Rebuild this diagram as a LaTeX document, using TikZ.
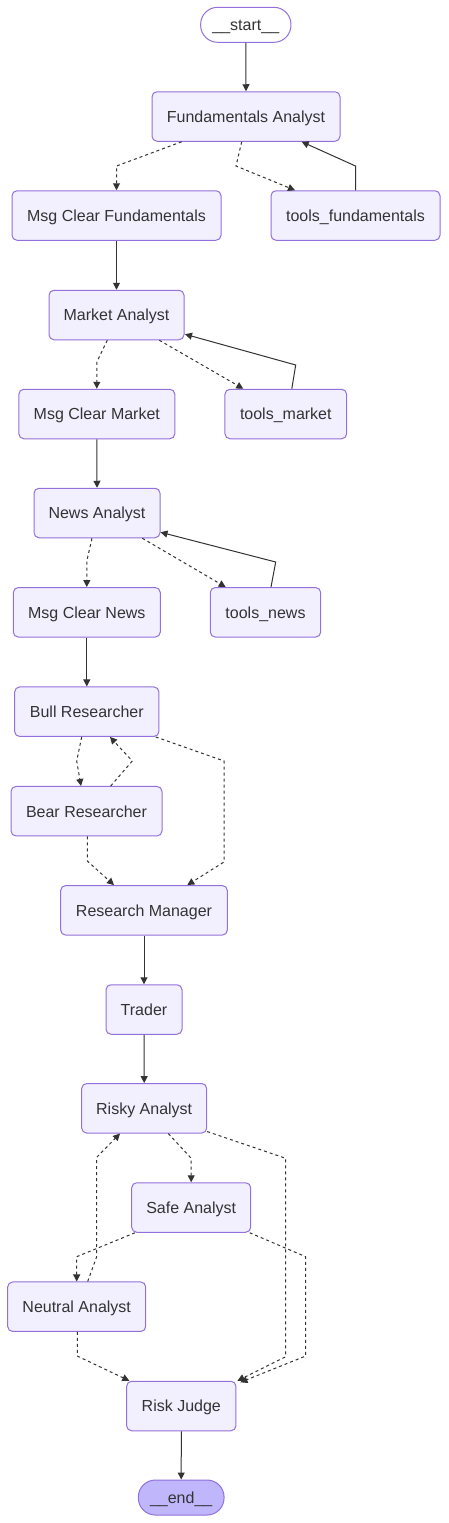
\documentclass[tikz,border=0pt]{standalone}
\usepackage{fontspec}
\setmainfont{Liberation Sans}
\usetikzlibrary{arrows.meta}
\definecolor{nodefill}{HTML}{F2F0FF}
\definecolor{nodestroke}{HTML}{9370DB}
\definecolor{lastfill}{HTML}{BFB6FC}
\definecolor{edgecol}{HTML}{333333}
\begin{document}
\begin{tikzpicture}[x=1pt,y=-1pt,
  box/.style={draw=nodestroke, fill=nodefill, line width=1pt, rounded corners=5pt,
    minimum height=49.5pt, inner sep=0pt, text=edgecol, text height=15.3pt, text depth=3.7pt,
    font=\fontsize{16pt}{19pt}\selectfont},
  pill/.style={box, rounded corners=17pt, minimum height=35pt},
  solidedge/.style={draw=edgecol, line width=1pt, -{Triangle[length=7pt,width=7pt]}},
  dottededge/.style={solidedge, dash pattern=on 3pt off 3pt}
]
\useasboundingbox (0,0) rectangle (448,1523);
\fill[white] (0,0) rectangle (448,1523);

% nodes
\node[pill, fill=white, minimum width=90.3pt] (start) at (245.8,24.8) {\_\_start\_\_};
\node[box, minimum width=188pt] (fa) at (246,116.5) {Fundamentals Analyst};
\node[box, minimum width=209pt] (mcf) at (116.5,215.5) {Msg Clear Fundamentals};
\node[box, minimum width=169pt] (tf) at (355.5,215.5) {tools\_fundamentals};
\node[box, minimum width=135pt] (ma) at (116.5,315) {Market Analyst};
\node[box, minimum width=156pt] (mcm) at (96.8,414) {Msg Clear Market};
\node[box, minimum width=121.7pt] (tm) at (285.8,414) {tools\_market};
\node[box, minimum width=126pt] (na) at (97,513) {News Analyst};
\node[box, minimum width=147pt] (mcn) at (86.8,612.3) {Msg Clear News};
\node[box, minimum width=110.4pt] (tn) at (265.5,612.3) {tools\_news};
\node[box, minimum width=144.3pt] (bull) at (86.8,711.7) {Bull Researcher};
\node[box, minimum width=151pt] (bear) at (86.5,811.2) {Bear Researcher};
\node[box, minimum width=166.7pt] (rm) at (144,910.3) {Research Manager};
\node[box, minimum width=76pt] (trader) at (144,1009.5) {Trader};
\node[box, minimum width=125pt] (risky) at (144.2,1108.3) {Risky Analyst};
\node[box, minimum width=119pt] (safe) at (191.2,1207.5) {Safe Analyst};
\node[box, minimum width=138pt] (neutral) at (76.7,1306.7) {Neutral Analyst};
\node[box, minimum width=109.3pt] (rj) at (181.3,1406) {Risk Judge};
\node[pill, fill=lastfill, minimum width=85.7pt] (end) at (181.2,1497.5) {\_\_end\_\_};

% edges
\draw[solidedge] (start.south) -- (fa.north);
\draw[dottededge] ([xshift=-64.3pt]fa.south) -- (116.5,166) -- (mcf.north);
\draw[dottededge] ([xshift=-4.3pt]fa.south) -- (236,166) -- ([xshift=-60.5pt]tf.north);
\draw[solidedge] (tf.north) -- (355.5,166) -- ([xshift=55.7pt]fa.south);

\draw[solidedge] (mcf.south) -- (ma.north);
\draw[dottededge] ([xshift=-9.2pt]ma.south) -- (96.8,362) -- (mcm.north);
\draw[dottededge] ([xshift=42.8pt]ma.south) -- ([xshift=-42.5pt]tm.north);
\draw[solidedge] ([xshift=6pt]tm.north) -- (295.7,365) -- ([yshift=6pt,xshift=0.5pt]ma.south east);

\draw[solidedge] (mcm.south) -- (na.north);
\draw[dottededge] ([xshift=-5pt]na.south) -- (86.8,561) -- (mcn.north);
\draw[dottededge] ([xshift=45.3pt]na.south) -- ([xshift=-39.8pt]tn.north);
\draw[solidedge] ([xshift=5.5pt]tn.north) -- (275.7,562) -- ([yshift=6pt]na.south east);

\draw[solidedge] (mcn.south) -- (bull.north);
\draw[dottededge] ([xshift=-5.1pt]bull.south) -- (76.7,761) -- ([xshift=-5.5pt]bear.north);
\draw[dottededge] ([xshift=24.2pt]bear.north) -- (132.3,761) -- ([xshift=23.2pt]bull.south);
\draw[dottededge] ([xshift=68.9pt]bull.south) -- (224,761) -- (224,862) -- ([xshift=43.3pt]rm.north);
\draw[dottededge] ([xshift=0.8pt]bear.south) -- (87.3,861) -- ([xshift=-30pt]rm.north);

\draw[solidedge] (rm.south) -- (trader.north);
\draw[solidedge] (trader.south) -- (risky.north);
\draw[dottededge] ([xshift=24.1pt]risky.south) -- (191.2,1158.3) -- (safe.north);
\draw[dottededge] ([yshift=2pt]risky.south east) -- (285.7,1158.3) -- (285.7,1356.7) -- ([xshift=1pt]rj.north east);
\draw[dottededge] ([xshift=-56.2pt]safe.south) -- (76.7,1256.7) -- (neutral.north);
\draw[dottededge] ([xshift=11pt]neutral.north) -- (96.7,1256.7) -- (96.7,1157.3) -- ([xshift=-24.2pt]risky.south);
\draw[dottededge] ([xshift=-1.5pt]safe.south east) -- (305.7,1256.7) -- (305.7,1356) -- ([xshift=4pt,yshift=-1.5pt]rj.north east);
\draw[dottededge] ([xshift=0.6pt]neutral.south) -- (77.3,1356) -- ([xshift=-52pt]rj.north);
\draw[solidedge] (rj.south) -- (end.north);
\end{tikzpicture}
\end{document}
